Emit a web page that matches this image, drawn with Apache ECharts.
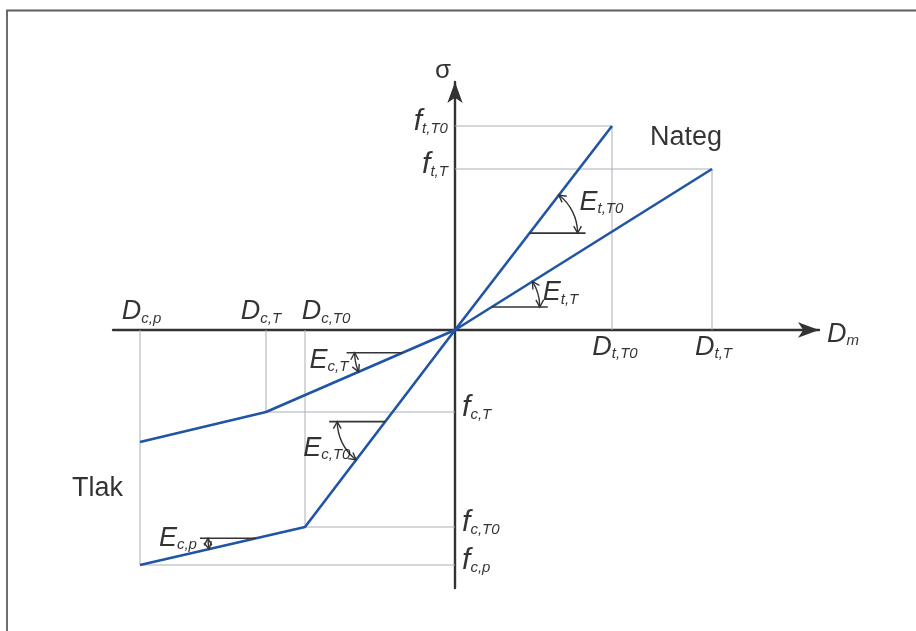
<!DOCTYPE html>
<html><head><meta charset="utf-8">
<script src="https://cdn.jsdelivr.net/npm/echarts@6/dist/echarts.min.js"></script>
<style>html,body{margin:0;padding:0;background:#fff}#c{width:916px;height:631px}</style>
</head><body><div id="c"></div>
<script>
// ---- Data (schematic units) ----
const D_tT0 = 15.7, D_tT = 25.7, D_cT0 = -15.0, D_cT = -18.9, D_cp = -31.5;
const f_tT0 = 20.4, f_tT = 16.1, f_cT = -8.2, f_cT0 = -19.7, f_cp = -23.5, f_cpT = -11.2;

const tensionT0 = [[0, 0], [D_tT0, f_tT0]];
const tensionT = [[0, 0], [D_tT, f_tT]];
const compressionT0 = [[0, 0], [D_cT0, f_cT0], [D_cp, f_cp]];
const compressionT = [[0, 0], [D_cT, f_cT], [D_cp, f_cpT]];

const xTickValues = [D_cp, D_cT, D_cT0, D_tT0, D_tT];
const xTickLabels = [['D', 'c,p'], ['D', 'c,T'], ['D', 'c,T0'], ['D', 't,T0'], ['D', 't,T']];
const yTickValues = [f_tT0, f_tT, f_cT, f_cT0, f_cp];
const yTickLabels = [['f', 't,T0'], ['f', 't,T'], ['f', 'c,T'], ['f', 'c,T0'], ['f', 'c,p']];
const guidePoints = [[D_tT0, f_tT0], [D_tT, f_tT], [D_cT, f_cT], [D_cT0, f_cT0], [D_cp, f_cp]];

const axisX = [-34.2, 36.4];
const axisY = [-25.8, 24.8];
const axisNames = ['σ', ['D', 'm']];
const regionLabels = [['Nateg', 19.5, 19.2], ['Tlak', -38.3, -15.9]];

// modulus annotations: curve, segment index, fraction along segment, label
const angleMarks = [
  { curve: tensionT0, seg: 0, t: 0.475, label: ['E', 't,T0'] },
  { curve: tensionT, seg: 0, t: 0.143, label: ['E', 't,T'] },
  { curve: compressionT, seg: 0, t: 0.277, label: ['E', 'c,T'] },
  { curve: compressionT0, seg: 0, t: 0.465, label: ['E', 'c,T0'] },
  { curve: compressionT0, seg: 1, t: 0.297, label: ['E', 'c,p'] }
];

// ---- Styling ----
const BLUE = '#2054a4', GUIDE = '#a9afb6', INK = '#000', AX = '#333', MARK = '#333';
const FONT = '"Liberation Sans", Arial, sans-serif';
const rich = {
  m: { fontFamily: FONT, fontSize: 27, fontStyle: 'italic', color: INK, lineHeight: 28 },
  f: { fontFamily: FONT, fontSize: 30, fontStyle: 'italic', color: INK, lineHeight: 28 },
  s: { fontFamily: FONT, fontSize: 15, fontStyle: 'italic', color: INK, lineHeight: 14, verticalAlign: 'bottom' },
  n: { fontFamily: FONT, fontSize: 27, color: INK, lineHeight: 28 },
  g: { fontFamily: FONT, fontSize: 26, color: INK, lineHeight: 28 }
};
const rt = (p, key) => '{' + (key || 'm') + '|' + p[0] + '}{s|' + p[1] + '}';
const xLabelDx = [1.5, -5, 21, 3, 1.5];
const angleLabelPos = [[50, -31], [51, -14], [-93, 8], [-82, 27], [-97, 0]];

function seg(data, color, width, z) {
  return { type: 'line', data: data, symbol: 'none', silent: true, animation: false, z: z,
    lineStyle: { color: color, width: width } };
}

const series = [];
guidePoints.forEach(function (p) {
  series.push(seg([[p[0], 0], [p[0], p[1]]], GUIDE, 1, 1));
  series.push(seg([[0, p[1]], [p[0], p[1]]], GUIDE, 1, 1));
});
[tensionT0, tensionT, compressionT0, compressionT].forEach(function (d) {
  series.push(seg(d, BLUE, 2.6, 3));
});

// vertex of each annotation, interpolated on its curve segment
const angleVertices = angleMarks.map(function (m) {
  const a = m.curve[m.seg], b = m.curve[m.seg + 1];
  return [a[0] + m.t * (b[0] - a[0]), a[1] + m.t * (b[1] - a[1])];
});

series.push({
  type: 'custom', coordinateSystem: 'cartesian2d', silent: true, animation: false, z: 4, clip: false,
  data: angleVertices,
  renderItem: function (params, api) {
    const m = angleMarks[params.dataIndex];
    const pa = api.coord(m.curve[m.seg]), pb = api.coord(m.curve[m.seg + 1]);
    const v = api.coord([api.value(0), api.value(1)]);
    const dir = pb[0] > pa[0] ? 1 : -1;
    const lineAng = Math.atan2(pb[1] - pa[1], pb[0] - pa[0]);
    const horAng = dir > 0 ? 0 : Math.PI;
    const a0 = Math.min(lineAng, horAng), a1 = Math.max(lineAng, horAng);
    const R = 48, L = 56, AH = 8, PHI = 0.5;
    const st = { stroke: MARK, lineWidth: 1.4, fill: 'none' };
    const children = [
      { type: 'line', shape: { x1: v[0], y1: v[1], x2: v[0] + dir * L, y2: v[1] }, style: { stroke: MARK, lineWidth: 1.6 } },
      { type: 'arc', shape: { cx: v[0], cy: v[1], r: R, startAngle: a0, endAngle: a1, clockwise: true }, style: st }
    ];
    [[a0, -1], [a1, 1]].forEach(function (e) {
      const th = e[0], sg = e[1];
      const px = v[0] + R * Math.cos(th), py = v[1] + R * Math.sin(th);
      const tx = -Math.sin(th) * sg, ty = Math.cos(th) * sg;
      const wing = function (phi) {
        const rx = tx * Math.cos(phi) - ty * Math.sin(phi);
        const ry = tx * Math.sin(phi) + ty * Math.cos(phi);
        return [px - AH * rx, py - AH * ry];
      };
      children.push({ type: 'polyline', shape: { points: [wing(PHI), [px, py], wing(-PHI)] }, style: st });
    });
    return { type: 'group', children: children };
  }
});

// text labels
const labelItems = [];
xTickValues.forEach(function (x, i) {
  const tension = x > 0;
  labelItems.push({ value: [x, 0], label: { formatter: rt(xTickLabels[i]), position: tension ? 'bottom' : 'top',
    distance: tension ? 3 : 4, offset: [xLabelDx[i], 0] } });
});
yTickValues.forEach(function (y, i) {
  const tension = y > 0;
  labelItems.push({ value: [0, y], label: { formatter: rt(yTickLabels[i], 'f'), position: tension ? 'left' : 'right',
    distance: tension ? 7 : 7, offset: [0, -4] } });
});
angleVertices.forEach(function (v, i) {
  labelItems.push({ value: v, label: { formatter: rt(angleMarks[i].label), position: angleLabelPos[i],
    align: 'left', verticalAlign: 'middle' } });
});
labelItems.push({ value: [0, axisY[1]], label: { formatter: '{g|' + axisNames[0] + '}', position: 'top', distance: 0, offset: [-12, 3] } });
labelItems.push({ value: [axisX[1], 0], label: { formatter: rt(axisNames[1]), position: 'right', distance: 8, offset: [0, 4] } });
regionLabels.forEach(function (r) {
  labelItems.push({ value: [r[1], r[2]], label: { formatter: '{n|' + r[0] + '}', position: 'right', distance: 0 } });
});

series.push({
  type: 'scatter', data: labelItems, symbol: 'circle', symbolSize: 0.1, clip: false, silent: true, animation: false, z: 5,
  itemStyle: { color: 'rgba(0,0,0,0)' },
  label: { show: true, color: INK, rich: rich }
});

function axis(range) {
  return {
    type: 'value', min: range[0], max: range[1],
    axisLine: { show: true, onZero: true, symbol: ['none', 'arrow'], symbolSize: [11.5, 21], symbolOffset: [0, 0],
      lineStyle: { color: AX, width: 2.4 } },
    axisTick: { show: false }, axisLabel: { show: false }, splitLine: { show: false }
  };
}

const chart = echarts.init(document.getElementById('c'), null, { renderer: 'canvas' });
chart.setOption({
  backgroundColor: '#fff',
  animation: false,
  grid: { left: 113, right: 97, top: 82, bottom: 43, containLabel: false },
  xAxis: axis(axisX),
  yAxis: axis(axisY),
  graphic: [{ type: 'rect', silent: true, shape: { x: 7, y: 10.5, width: 1200, height: 1000 },
    style: { fill: 'none', stroke: '#5e5e5e', lineWidth: 1.8 } }],
  series: series
});
</script></body></html>
